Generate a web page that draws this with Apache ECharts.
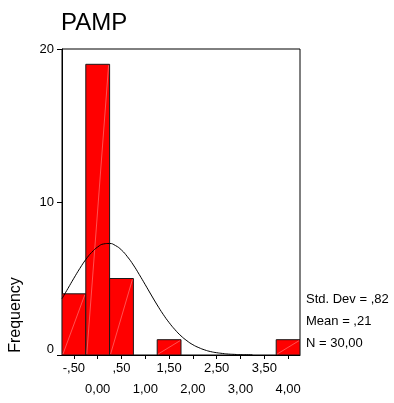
<!DOCTYPE html>
<html>
<head>
<meta charset="utf-8">
<script src="https://cdn.jsdelivr.net/npm/echarts@6/dist/echarts.min.js"></script>
<style>html,body{margin:0;padding:0;background:#fff}#c{width:394px;height:403px}</style>
</head>
<body>
<div id="c"></div>
<script>
const binCenters = [-0.5, 0, 0.5, 1.5, 4.0];
const frequencies = [4, 19, 5, 1, 1];
const binWidth = 0.5;
const curveX = [-0.75,-0.625,-0.5,-0.375,-0.25,-0.125,0,0.125,0.25,0.375,0.5,0.625,0.75,0.875,1.0,1.125,1.25,1.375,1.5,1.625,1.75,1.875,2.0,2.125,2.25,2.375,2.5,2.625,2.75,2.875,3.0,3.125,3.25];
const curveY = [3.68,4.35,5.02,5.66,6.24,6.71,7.06,7.26,7.29,7.15,6.86,6.42,5.88,5.25,4.59,3.92,3.27,2.66,2.12,1.65,1.25,0.93,0.67,0.48,0.33,0.22,0.15,0.10,0.06,0.04,0.02,0.015,0.01];
const xTickValues = [-0.5,0,0.5,1,1.5,2,2.5,3,3.5,4];
const xTickLabels = ['-,50','0,00',',50','1,00','1,50','2,00','2,50','3,00','3,50','4,00'];
const yTickValues = [0,10,20];
const titleText = 'PAMP';
const yName = 'Frequency';
const statsLines = ['Std. Dev = ,82','Mean = ,21','N = 30,00'];

const FONT = "'Liberation Sans', Arial, sans-serif";
const chart = echarts.init(document.getElementById('c'), null, {renderer:'canvas'});

const barData = binCenters.map((c,i)=>[c, frequencies[i]]);
const curveData = curveX.map((x,i)=>[x, curveY[i]]);
const row1Values = xTickValues.filter(v=>!Number.isInteger(v));
const row2Values = xTickValues.filter(v=>Number.isInteger(v));
function labelFor(v){
  for(let i=0;i<xTickValues.length;i++){
    if(Math.abs(v-xTickValues[i])<1e-9) return xTickLabels[i];
  }
  return '';
}

chart.setOption({
  animation:false,
  backgroundColor:'#fff',
  title:{text:titleText, left:56, top:6, textStyle:{fontFamily:FONT, fontSize:24, fontWeight:'normal', color:'#000'}},
  grid:{left:62, right:94, top:49, bottom:48, show:true, borderColor:'#000', borderWidth:1, backgroundColor:'transparent'},
  xAxis:[{
    type:'value', min:-0.75, max:4.25, position:'bottom',
    splitLine:{show:false},
    axisLine:{show:true, onZero:false, lineStyle:{color:'#000', width:1}},
    axisTick:{show:true, customValues:xTickValues, inside:false, length:4, lineStyle:{color:'#000'}},
    axisLabel:{
      customValues:row1Values, showMinLabel:true, showMaxLabel:true,
      margin:7, fontFamily:FONT, fontSize:13, color:'#000',
      formatter:labelFor
    }
  },{
    type:'value', min:-0.75, max:4.25, position:'bottom', offset:0,
    splitLine:{show:false},
    axisLine:{show:false, onZero:false},
    axisTick:{show:false},
    axisLabel:{
      customValues:row2Values, showMinLabel:true, showMaxLabel:true,
      margin:28, fontFamily:FONT, fontSize:13, color:'#000',
      formatter:labelFor
    }
  }],
  yAxis:{
    type:'value', min:0, max:20, interval:10,
    splitLine:{show:false},
    axisLine:{show:true, onZero:false, lineStyle:{color:'#000', width:1}},
    axisTick:{show:true, inside:false, length:5, lineStyle:{color:'#000'}},
    axisLabel:{
      margin:8, fontFamily:FONT, fontSize:13, color:'#000',
      formatter:function(v){ return v===0 ? '{z|0}' : String(v); },
      rich:{z:{fontFamily:FONT, fontSize:13, color:'#000', padding:[0,0,12,0]}}
    }
  },
  series:[
    {
      type:'custom',
      data:barData,
      clip:true,
      z:2,
      renderItem:function(params, api){
        const c = api.value(0), h = api.value(1);
        const p0 = api.coord([c-binWidth/2, h]);
        const p1 = api.coord([c+binWidth/2, 0]);
        return {type:'group', children:[
          {type:'rect', shape:{x:p0[0], y:p0[1], width:p1[0]-p0[0], height:p1[1]-p0[1]},
           style:{fill:'#ff0000', stroke:'#1a1a1a', lineWidth:1}},
          {type:'line', shape:{x1:p0[0]+1, y1:p1[1]-1, x2:p1[0]-1, y2:p0[1]+1},
           style:{stroke:'#ff8a8a', lineWidth:0.6}}
        ]};
      }
    },
    {
      type:'line',
      data:curveData,
      showSymbol:false,
      symbol:'none',
      smooth:true,
      z:3,
      lineStyle:{color:'#000', width:1}
    }
  ],
  graphic:[
    {type:'text', x:16, y:315, rotation:Math.PI/2,
     style:{text:yName, fontFamily:FONT, fontSize:16, fill:'#000', textAlign:'center', textVerticalAlign:'middle'}},
    {type:'text', left:306, top:293, style:{text:statsLines[0], fontFamily:FONT, fontSize:13, fill:'#000'}},
    {type:'text', left:306, top:315, style:{text:statsLines[1], fontFamily:FONT, fontSize:13, fill:'#000'}},
    {type:'text', left:306, top:337, style:{text:statsLines[2], fontFamily:FONT, fontSize:13, fill:'#000'}}
  ]
});
</script>
</body>
</html>
